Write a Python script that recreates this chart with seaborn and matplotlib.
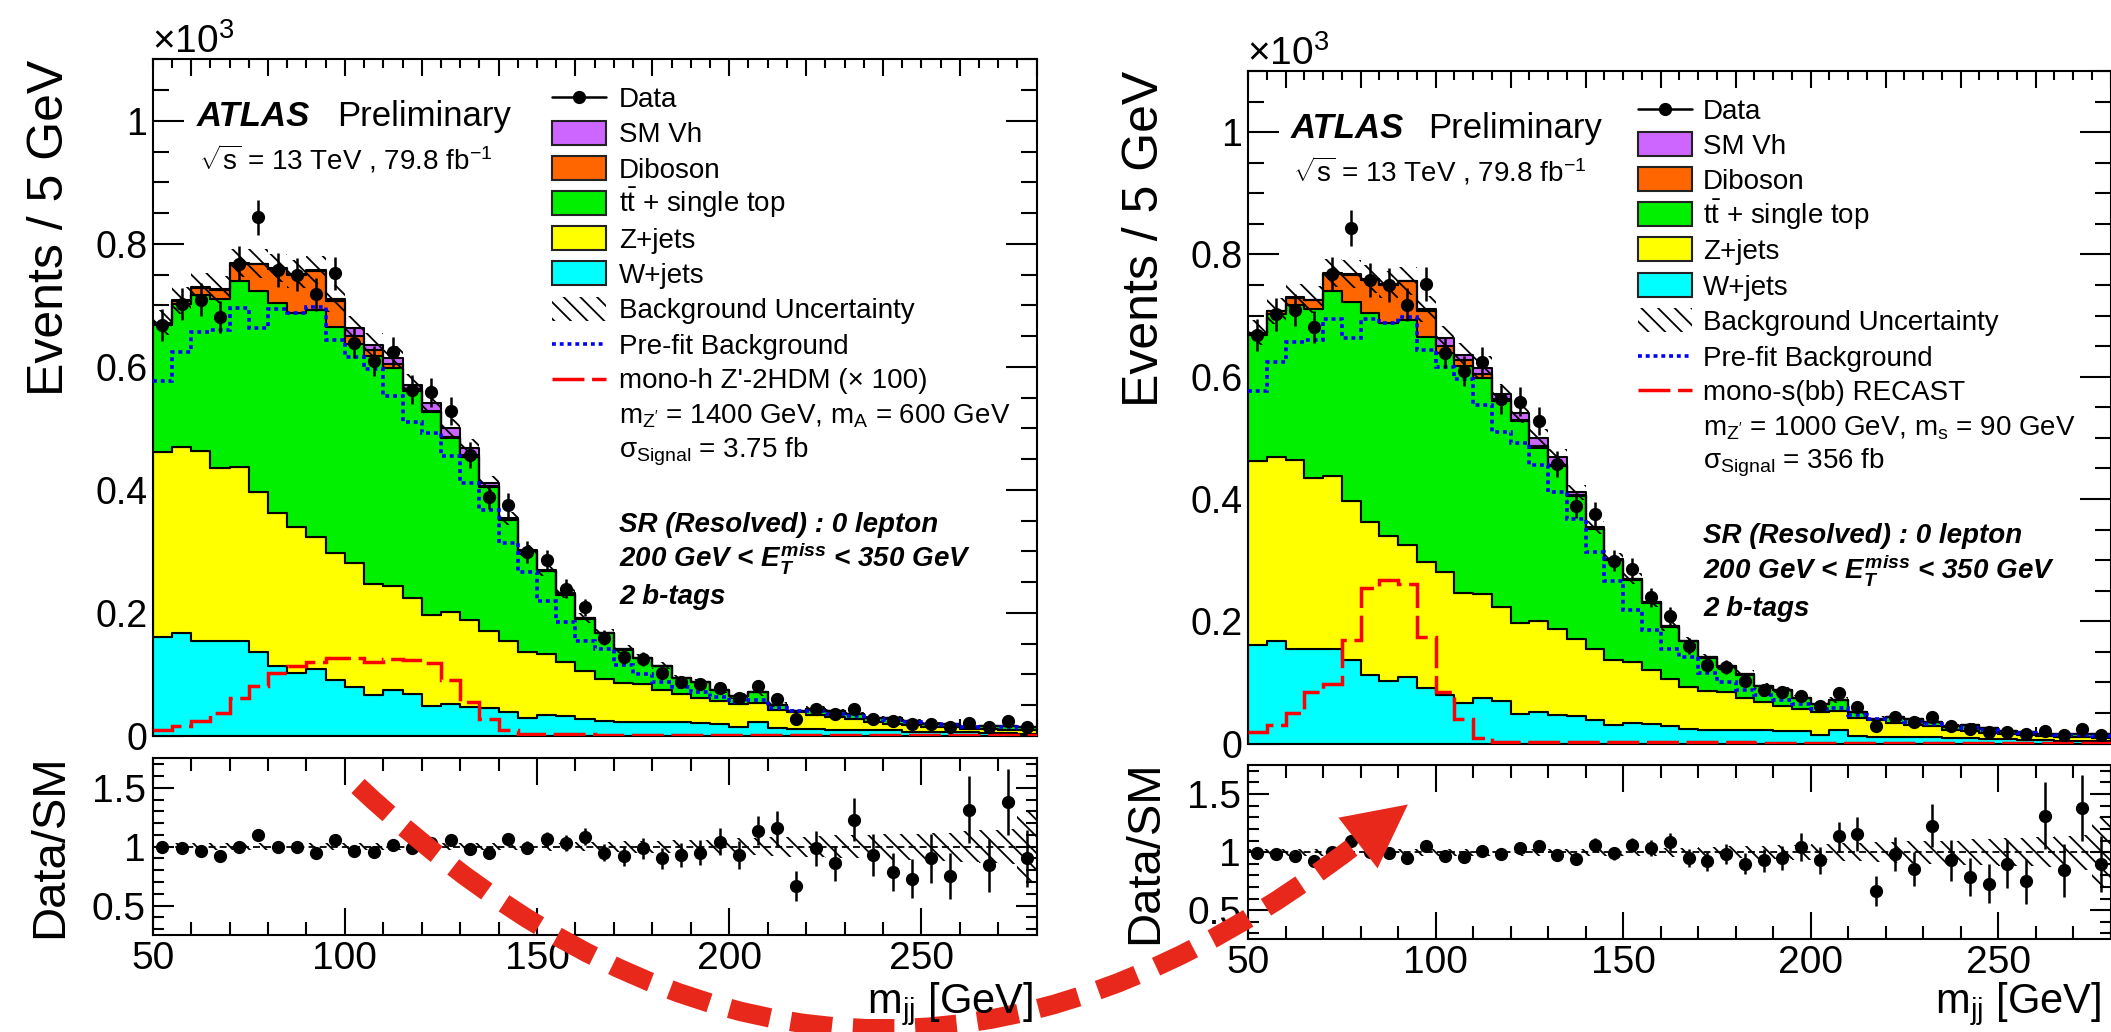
import numpy as np
import pandas as pd
import matplotlib
matplotlib.use("Agg")
import matplotlib.pyplot as plt
from matplotlib.ticker import MultipleLocator, FuncFormatter
from matplotlib.patches import Rectangle, Polygon, PathPatch
from matplotlib.path import Path
import seaborn as sns

sns.set_style("ticks")
plt.rcParams.update({
    "font.family": ["Liberation Sans", "DejaVu Sans"],
    "mathtext.fontset": "custom",
    "mathtext.rm": "Liberation Sans",
    "mathtext.it": "Liberation Sans:italic:bold",
    "mathtext.bf": "Liberation Sans:bold",
    "hatch.linewidth": 1.3,
    "lines.scale_dashes": False,
    "axes.linewidth": 1.5,
    "axes.edgecolor": "black",
    "xtick.color": "black",
    "ytick.color": "black",
    "text.color": "black",
})

# ---------------------------------------------------------------- data
# m_jj binning: 5 GeV bins from 50 to 280 GeV (values in units of 10^3 events)
bin_edges = np.arange(50, 285, 5)
bin_centers = bin_edges[:-1] + 2.5

data_obs = [0.668, 0.702, 0.709, 0.681, 0.768, 0.843, 0.758, 0.750, 0.718, 0.752,
            0.639, 0.610, 0.624, 0.563, 0.559, 0.528, 0.457, 0.388, 0.376, 0.299,
            0.286, 0.239, 0.209, 0.160, 0.129, 0.125, 0.103, 0.088, 0.084, 0.078,
            0.061, 0.082, 0.060, 0.028, 0.044, 0.035, 0.044, 0.028, 0.024, 0.019,
            0.019, 0.015, 0.021, 0.014, 0.024, 0.014]

w_jets = [0.161, 0.168, 0.154, 0.154, 0.154, 0.137, 0.113, 0.102, 0.109, 0.091,
          0.080, 0.066, 0.074, 0.069, 0.048, 0.052, 0.047, 0.045, 0.039, 0.030,
          0.034, 0.032, 0.028, 0.024, 0.023, 0.023, 0.022, 0.022, 0.021, 0.020,
          0.014, 0.022, 0.013, 0.011, 0.011, 0.010, 0.010, 0.009, 0.009, 0.007,
          0.007, 0.006, 0.006, 0.005, 0.005, 0.004]

z_jets = [0.301, 0.301, 0.310, 0.281, 0.284, 0.260, 0.249, 0.238, 0.215, 0.206,
          0.201, 0.181, 0.170, 0.155, 0.149, 0.149, 0.141, 0.126, 0.115, 0.106,
          0.099, 0.088, 0.077, 0.069, 0.063, 0.061, 0.053, 0.046, 0.041, 0.037,
          0.038, 0.031, 0.029, 0.028, 0.023, 0.021, 0.018, 0.014, 0.011, 0.011,
          0.008, 0.008, 0.006, 0.006, 0.005, 0.005]

top_quark = [0.206, 0.234, 0.253, 0.276, 0.302, 0.326, 0.342, 0.348, 0.368, 0.368,
             0.357, 0.370, 0.354, 0.337, 0.330, 0.283, 0.266, 0.234, 0.197, 0.164,
             0.135, 0.110, 0.086, 0.074, 0.054, 0.042, 0.038, 0.026, 0.026, 0.017,
             0.013, 0.018, 0.009, 0.002, 0.010, 0.009, 0.007, 0.006, 0.010, 0.007,
             0.005, 0.005, 0.003, 0.005, 0.006, 0.006]

diboson = [0.003, 0.004, 0.012, 0.014, 0.028, 0.044, 0.055, 0.062, 0.064, 0.042,
           0.013, 0.010, 0.006, 0.003, 0.002, 0.002, 0.002, 0.001, 0.001, 0.001,
           0.001, 0.001, 0.001, 0.001, 0.001, 0.001, 0.001, 0.0, 0.0, 0.0,
           0.0, 0.0, 0.0, 0.0, 0.0, 0.0, 0.0, 0.0, 0.0, 0.0,
           0.0, 0.0, 0.0, 0.0, 0.0, 0.0]

sm_vh = [0.001, 0.001, 0.001, 0.001, 0.001, 0.001, 0.001, 0.001, 0.001, 0.004,
         0.012, 0.009, 0.011, 0.007, 0.012, 0.014, 0.012, 0.005, 0.002, 0.001,
         0.001, 0.001, 0.0, 0.0, 0.0, 0.0, 0.0, 0.0, 0.0, 0.0,
         0.0, 0.0, 0.0, 0.0, 0.0, 0.0, 0.0, 0.0, 0.0, 0.0,
         0.0, 0.0, 0.0, 0.0, 0.0, 0.0]

prefit_bkg = [0.577, 0.624, 0.656, 0.660, 0.695, 0.664, 0.694, 0.688, 0.698, 0.643,
              0.616, 0.597, 0.553, 0.510, 0.492, 0.455, 0.412, 0.368, 0.313, 0.266,
              0.219, 0.186, 0.155, 0.141, 0.115, 0.100, 0.088, 0.080, 0.072, 0.064,
              0.056, 0.058, 0.046, 0.041, 0.040, 0.036, 0.032, 0.027, 0.026, 0.023,
              0.019, 0.018, 0.015, 0.014, 0.014, 0.013]

# relative background uncertainty per bin
bkg_unc = [0.03, 0.03, 0.03, 0.03, 0.03, 0.03, 0.03, 0.03, 0.03, 0.03,
           0.03, 0.03, 0.03, 0.03, 0.03, 0.03, 0.03, 0.03, 0.03, 0.03,
           0.035, 0.035, 0.04, 0.04, 0.045, 0.05, 0.05, 0.055, 0.06, 0.065,
           0.07, 0.075, 0.08, 0.085, 0.09, 0.095, 0.10, 0.10, 0.11, 0.11,
           0.12, 0.12, 0.13, 0.14, 0.15, 0.30]

# Data / SM ratio per bin
data_over_sm = [0.994, 0.986, 0.966, 0.920, 1.000, 1.100, 1.000, 0.995, 0.949, 1.057,
                0.963, 0.957, 1.014, 0.986, 1.034, 1.057, 0.977, 0.945, 1.063, 0.991,
                1.063, 1.034, 1.086, 0.949, 0.920, 0.986, 0.900, 0.929, 0.949, 1.043,
                0.929, 1.137, 1.157, 0.666, 0.986, 0.857, 1.229, 0.929, 0.786, 0.729,
                0.900, 0.751, 1.314, 0.843, 1.380, 0.900]

# signal models
signal_monoh = [0.009, 0.016, 0.025, 0.038, 0.062, 0.081, 0.102, 0.113, 0.121, 0.126,
                0.127, 0.120, 0.125, 0.124, 0.118, 0.091, 0.056, 0.028, 0.010, 0.004,
                0.003, 0.003, 0.003, 0.002, 0.002, 0.002, 0.002, 0.002, 0.002, 0.002,
                0.002, 0.002, 0.002, 0.002, 0.001, 0.001, 0.001, 0.001, 0.001, 0.001,
                0.001, 0.001, 0.001, 0.001, 0.001, 0.001]

signal_monos = [0.019, 0.030, 0.050, 0.085, 0.097, 0.170, 0.255, 0.268, 0.261, 0.174,
                0.085, 0.041, 0.009, 0.003, 0.002, 0.002, 0.002, 0.002, 0.002, 0.002,
                0.002, 0.002, 0.002, 0.002, 0.002, 0.002, 0.002, 0.001, 0.001, 0.001,
                0.001, 0.001, 0.001, 0.001, 0.001, 0.001, 0.001, 0.001, 0.001, 0.001,
                0.001, 0.001, 0.001, 0.001, 0.001, 0.001]

process_names = ["SM Vh", "Diboson", "tt + single top", "Z+jets", "W+jets"]
process_values = [sm_vh, diboson, top_quark, z_jets, w_jets]
process_colors = ["#cc66ff", "#ff6600", "#00f000", "#ffff00", "#00ffff"]
legend_labels = ["SM Vh", "Diboson", r"$\mathrm{t\bar{t}}$ + single top", "Z+jets", "W+jets"]

BLUE = "#0000ff"
RED = "#ff0000"
ARROW_RED = "#e9281c"

# ---------------------------------------------------------------- layout
W, H = 2111, 1032
fig = plt.figure(figsize=(W / 100, H / 100), dpi=100)


def rect(x0, y0, x1, y1):
    return [x0 / W, 1 - y1 / H, (x1 - x0) / W, (y1 - y0) / H]


panels = [
    dict(main=(152.7, 59.3, 1036.7, 736.0), ratio=(152.7, 758.3, 1036.7, 935.0),
         signal=signal_monoh, sig_label="mono-h Z'-2HDM (× 100)",
         sig_mass=r"m$_{\mathrm{Z'}}$ = 1400 GeV, m$_{\mathrm{A}}$ = 600 GeV",
         sig_xsec=r"σ$_{\mathrm{Signal}}$ = 3.75 fb"),
    dict(main=(1248.0, 71.0, 2110.5, 743.6), ratio=(1248.0, 765.0, 2110.5, 939.3),
         signal=signal_monos, sig_label="mono-s(bb) RECAST",
         sig_mass=r"m$_{\mathrm{Z'}}$ = 1000 GeV, m$_{\mathrm{s}}$ = 90 GeV",
         sig_xsec=r"σ$_{\mathrm{Signal}}$ = 356 fb"),
]

data_arr = np.array(data_obs)
data_err = np.sqrt(data_arr * 1000) / 1000
ratio_arr = np.array(data_over_sm)
ratio_err = ratio_arr / np.sqrt(data_arr * 1000)
unc_arr = np.array(bkg_unc)
total_bkg = np.sum([np.array(v) for v in process_values], axis=0)


def ext(a):
    a = np.asarray(a)
    return np.append(a, a[-1])


long_df = pd.DataFrame({
    "mjj": np.tile(bin_centers, len(process_names)),
    "events": np.concatenate([np.array(v) for v in process_values]),
    "process": np.repeat(process_names, len(bin_centers)),
})

fmt_g = FuncFormatter(lambda v, p: f"{v:g}")

overlay = fig.add_axes([0, 0, 1, 1], zorder=20)
overlay.set_xlim(0, W)
overlay.set_ylim(H, 0)
overlay.axis("off")
overlay.patch.set_alpha(0)

for p in panels:
    ax = fig.add_axes(rect(*p["main"]))
    rax = fig.add_axes(rect(*p["ratio"]))

    # stacked backgrounds
    sns.histplot(data=long_df, x="mjj", weights="events", hue="process",
                 hue_order=process_names, multiple="stack", bins=[float(b) for b in bin_edges],
                 element="step", fill=True, palette=process_colors, alpha=1,
                 edgecolor="black", linewidth=1.5, legend=False, ax=ax)

    ax.fill_between(bin_edges, ext(total_bkg * (1 - unc_arr)), ext(total_bkg * (1 + unc_arr)),
                    step="post", facecolor="none", edgecolor="black", hatch=r"\\",
                    linewidth=0, zorder=2)
    ax.stairs(prefit_bkg, bin_edges, baseline=None, color=BLUE, lw=2.6,
              linestyle=(0, (2.8, 2.8)), zorder=3)
    ax.stairs(p["signal"], bin_edges, baseline=None, color=RED, lw=2.5,
              linestyle=(0, (23, 5.5)), zorder=3)
    ax.errorbar(bin_centers, data_arr, yerr=data_err, fmt="o", color="black",
                ms=8.5, elinewidth=1.8, capsize=0, zorder=5)

    ax.set_xlim(50, 280)
    ax.set_ylim(0, 1.1)
    ax.set_xlabel("")
    ax.set_ylabel("")
    ax.xaxis.set_major_locator(MultipleLocator(20))
    ax.xaxis.set_minor_locator(MultipleLocator(5))
    ax.yaxis.set_major_locator(MultipleLocator(0.2))
    ax.yaxis.set_minor_locator(MultipleLocator(0.05))
    ax.yaxis.set_major_formatter(fmt_g)
    ax.tick_params(which="both", direction="in", top=True, right=True, width=1.5)
    ax.tick_params(axis="x", which="major", length=12, labelbottom=False)
    ax.tick_params(axis="x", which="minor", length=6.5)
    ax.tick_params(axis="y", which="major", length=22, labelsize=27, pad=4)
    ax.tick_params(axis="y", which="minor", length=11.5)

    # ratio panel
    rax.fill_between(bin_edges, ext(1 - unc_arr), ext(1 + unc_arr), step="post",
                     facecolor="none", edgecolor="black", hatch=r"\\", linewidth=0)
    rax.axhline(1.0, color="black", lw=1.3, ls=(0, (5, 3)))
    rax.errorbar(bin_centers, ratio_arr, yerr=ratio_err, fmt="o", color="black",
                 ms=8.5, elinewidth=1.8, capsize=0, zorder=5)
    rax.set_xlim(50, 280)
    rax.set_ylim(0.25, 1.75)
    rax.xaxis.set_major_locator(MultipleLocator(50))
    rax.xaxis.set_minor_locator(MultipleLocator(10))
    rax.yaxis.set_major_locator(MultipleLocator(0.5))
    rax.yaxis.set_minor_locator(MultipleLocator(0.1))
    rax.xaxis.set_major_formatter(fmt_g)
    rax.yaxis.set_major_formatter(fmt_g)
    rax.tick_params(which="both", direction="in", top=True, right=True, width=1.5)
    rax.tick_params(axis="x", which="major", length=19.5, labelsize=28, pad=4)
    rax.tick_params(axis="x", which="minor", length=9.4)
    rax.tick_params(axis="y", which="major", length=15, labelsize=28, pad=5)
    rax.tick_params(axis="y", which="minor", length=8)

    # text and legend, placed in figure pixels relative to the frame
    fl, ft, fr, fb = p["main"]
    fw = fr - fl
    rl, rt, rr, rb = p["ratio"]
    ylab_x = fl - 103

    overlay.text(fl - 1, ft - 6, "×10$^{3}$", fontsize=28, va="baseline", ha="left")
    overlay.text(ylab_x, ft, "Events / 5 GeV", fontsize=36, rotation=90,
                 ha="center", va="top")
    overlay.text(ylab_x, (rt + rb) / 2, "Data/SM", fontsize=34, rotation=90,
                 ha="center", va="center")
    overlay.text(min(fr, 2104) - 3, min(rb + 79, 1013), r"m$_{\mathrm{jj}}$ [GeV]",
                 fontsize=30, ha="right", va="baseline")

    overlay.text(fl + 0.0501 * fw, ft + 66.7, "ATLAS", fontsize=25,
                 fontweight="bold", fontstyle="italic", va="baseline")
    overlay.text(fl + 0.2083 * fw, ft + 66.7, "Preliminary", fontsize=25, va="baseline")
    overlay.text(fl + 0.052 * fw, ft + 110.5,
                 r"$\sqrt{\mathrm{s}}$ = 13 TeV , 79.8 fb$^{\mathrm{-1}}$",
                 fontsize=20, va="baseline")

    sx = fl + 0.4517 * fw
    tx = fl + 0.5275 * fw
    sw, sh = 54, 24
    base = [ft + d for d in (47.7, 83.2, 118.2, 153.2, 188.2, 223.7,
                             259.2, 294.7, 329.2, 364.2, 397.7)]
    centers_y = [b - 10 for b in base]

    # Data
    overlay.plot([sx, sx + sw], [centers_y[0]] * 2, color="black", lw=1.8)
    overlay.plot([sx + sw / 2], [centers_y[0]], "o", color="black", ms=8.5)
    overlay.text(tx, base[0], "Data", fontsize=20, va="baseline")
    # stacked processes
    for i, (lab, col) in enumerate(zip(legend_labels, process_colors)):
        yc = centers_y[i + 1]
        overlay.add_patch(Rectangle((sx, yc - sh / 2), sw, sh, facecolor=col,
                                    edgecolor="#222222", lw=1.5))
        overlay.text(tx, base[i + 1], lab, fontsize=20, va="baseline")
    # uncertainty
    yc = centers_y[6]
    overlay.add_patch(Rectangle((sx, yc - sh / 2), sw, sh, facecolor="none",
                                edgecolor="black", hatch=r"\\", lw=0))
    overlay.text(tx, base[6], "Background Uncertainty", fontsize=20, va="baseline")
    # pre-fit
    overlay.plot([sx, sx + sw], [centers_y[7]] * 2, color=BLUE, lw=2.6,
                 linestyle=(0, (2.8, 2.8)))
    overlay.text(tx, base[7], "Pre-fit Background", fontsize=20, va="baseline")
    # signal
    overlay.plot([sx, sx + sw], [centers_y[8]] * 2, color=RED, lw=2.5,
                 linestyle=(0, (23, 5.5)))
    overlay.text(tx, base[8], p["sig_label"], fontsize=20, va="baseline")
    overlay.text(tx, base[9], p["sig_mass"], fontsize=20, va="baseline")
    overlay.text(tx, base[10], p["sig_xsec"], fontsize=20, va="baseline")

    # region description
    for dy, line in zip((472.4, 507.4, 544.7),
                        ("SR (Resolved) : 0 lepton",
                         r"200 GeV < $\mathit{E}_{\mathit{T}}^{\mathit{miss}}$ < 350 GeV",
                         "2 b-tags")):
        overlay.text(tx, ft + dy, line, fontsize=20, fontweight="bold",
                     fontstyle="italic", va="baseline")

# curved dashed arrow linking the two ratio panels
p0 = np.array([358.0, 786.0])
p2 = np.array([1358.0, 843.0])
p1 = np.array([842.0, 1241.5])
arrow_path = Path([p0, p1, p2], [Path.MOVETO, Path.CURVE3, Path.CURVE3])
overlay.add_patch(PathPatch(arrow_path, facecolor="none", edgecolor=ARROW_RED, lw=14,
                            linestyle=(0, (30, 15)), capstyle="butt"))
d = (p2 - p1) / np.linalg.norm(p2 - p1)
n = np.array([-d[1], d[0]])
head_len, head_w = 63, 64
tip = p2 + head_len * d
overlay.add_patch(Polygon([tip, p2 + n * head_w / 2, p2 - n * head_w / 2],
                          closed=True, facecolor=ARROW_RED, edgecolor="none"))

fig.savefig("out.png", dpi=100)
